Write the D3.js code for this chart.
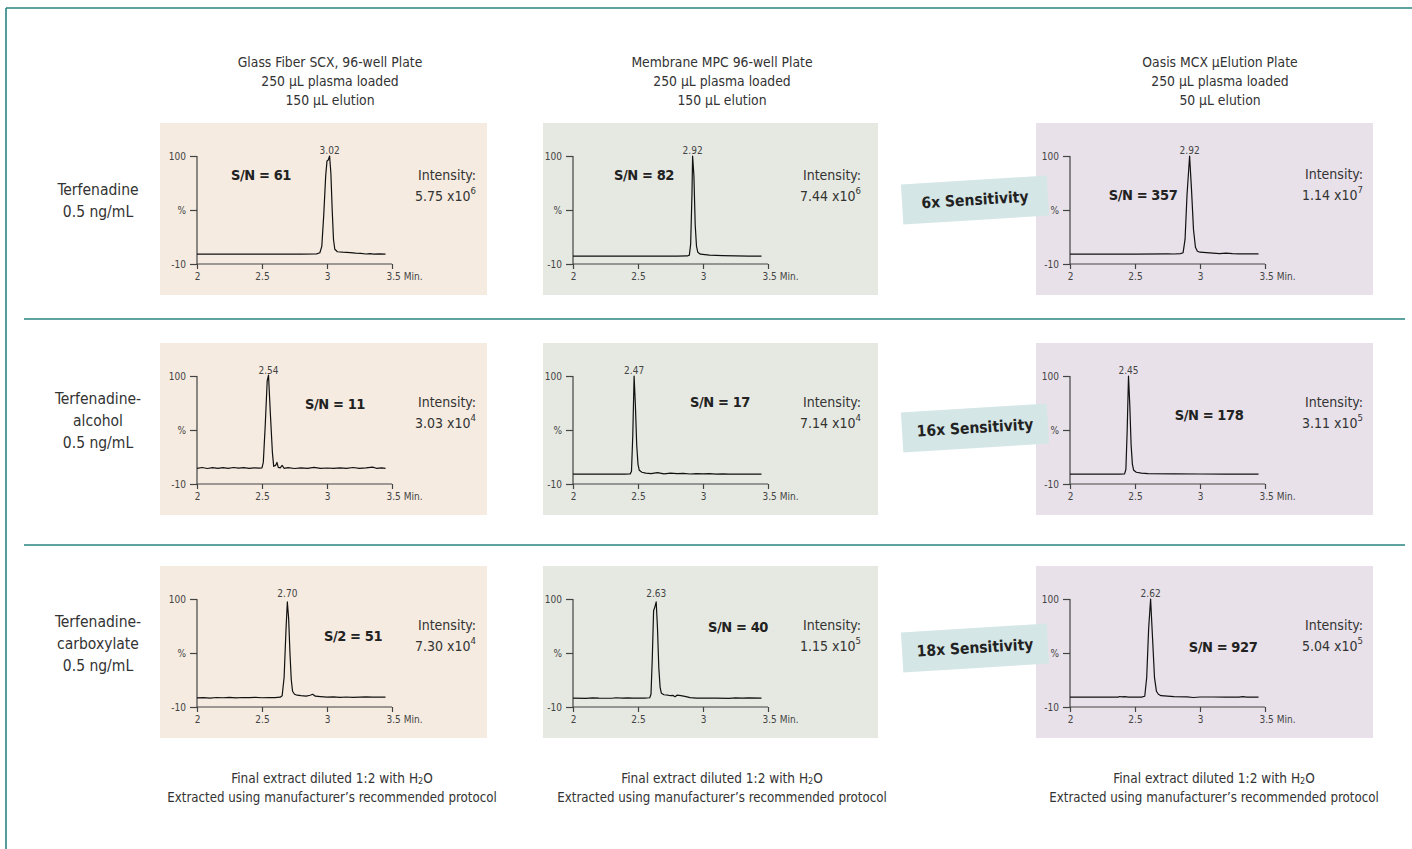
<!DOCTYPE html>
<html>
<head>
<meta charset="utf-8">
<script src="https://cdn.jsdelivr.net/npm/d3@7"></script>
<style>
  html, body { margin: 0; padding: 0; background: #fff; }
  svg { display: block; }
  text { font-family: "Liberation Sans Narrow", "DejaVu Sans Condensed", "Liberation Sans", sans-serif; fill: #333; }
</style>
</head>
<body>
<svg id="chart" width="1412" height="849"></svg>
<script>
// ---------------- DATA ----------------
const columnHeaders = [
  ["Glass Fiber SCX, 96-well Plate", "250 µL plasma loaded", "150 µL elution"],
  ["Membrane MPC 96-well Plate", "250 µL plasma loaded", "150 µL elution"],
  ["Oasis MCX µElution Plate", "250 µL plasma loaded", "50 µL elution"]
];
const compounds = [
  ["Terfenadine", "0.5 ng/mL"],
  ["Terfenadine-", "alcohol", "0.5 ng/mL"],
  ["Terfenadine-", "carboxylate", "0.5 ng/mL"]
];
const snLabels = [
  ["S/N = 61", "S/N = 82", "S/N = 357"],
  ["S/N = 11", "S/N = 17", "S/N = 178"],
  ["S/2 = 51", "S/N = 40", "S/N = 927"]
];
const intensityMantissa = [
  ["5.75", "7.44", "1.14"],
  ["3.03", "7.14", "3.11"],
  ["7.30", "1.15", "5.04"]
];
const intensityExponent = [
  ["6", "6", "7"],
  ["4", "4", "5"],
  ["4", "5", "5"]
];
const peakLabels = [
  ["3.02", "2.92", "2.92"],
  ["2.54", "2.47", "2.45"],
  ["2.70", "2.63", "2.62"]
];
const sensitivityLabels = ["6x Sensitivity", "16x Sensitivity", "18x Sensitivity"];
const xTicks = [2, 2.5, 3, 3.5];
const xTickLabels = ["2", "2.5", "3", "3.5 Min."];
const yTicks = [-10, 45, 100];
const yTickLabels = ["-10", "%", "100"];
const footerLines = ["Final extract diluted 1:2 with H", "Extracted using manufacturer’s recommended protocol"];

// chromatogram traces [time (min), relative intensity (%)]
const terfGlass = [[2.00,0],[2.30,0],[2.60,0],[2.80,0],[2.92,0.3],[2.945,1.5],[2.96,8],[2.975,40],[2.99,80],[3.00,95],[3.01,96],[3.02,100],[3.03,82],[3.04,45],[3.05,15],[3.06,5],[3.08,2.5],[3.12,2],[3.18,1.5],[3.22,1],[3.26,0.8],[3.30,0.2],[3.33,0.5],[3.36,0],[3.40,0.3],[3.45,0]];
const terfMembrane = [[2.00,-2],[2.50,-2],[2.80,-2],[2.88,-1.8],[2.895,-1],[2.905,10],[2.915,60],[2.92,100],[2.93,80],[2.94,30],[2.95,8],[2.96,2],[2.98,0],[3.05,-1],[3.15,-1.5],[3.25,-1.8],[3.35,-2],[3.45,-2]];
const terfOasis = [[2.00,0],[2.50,0],[2.75,0.3],[2.80,0.2],[2.85,0.6],[2.87,1.5],[2.885,15],[2.90,60],[2.92,100],[2.935,65],[2.95,25],[2.965,7],[2.98,3],[3.00,2],[3.05,1.5],[3.10,1],[3.15,0.6],[3.20,1],[3.25,0.5],[3.30,0.3],[3.45,0.3]];
const alcGlass = [[2.00,6],[2.04,6.8],[2.08,5.8],[2.12,6.6],[2.16,5.9],[2.20,6.7],[2.24,6],[2.28,6.8],[2.32,6.1],[2.36,6.6],[2.40,5.9],[2.44,6.5],[2.48,6.2],[2.50,6.5],[2.51,12],[2.525,50],[2.54,95],[2.55,101],[2.565,60],[2.58,22],[2.59,8],[2.605,9],[2.615,12],[2.625,7],[2.64,6.5],[2.655,9],[2.67,6],[2.70,6.6],[2.75,5.8],[2.80,6.4],[2.85,6],[2.90,6.9],[2.95,6],[3.00,6.3],[3.05,5.9],[3.10,6.5],[3.15,6],[3.20,6.8],[3.25,6],[3.30,6.5],[3.35,7.2],[3.38,6],[3.42,6.5],[3.45,6]];
const alcMembrane = [[2.00,0],[2.10,0],[2.20,0.2],[2.30,0],[2.40,0],[2.44,0.3],[2.45,3],[2.46,40],[2.47,100],[2.48,70],[2.49,30],[2.50,10],[2.51,4],[2.53,2],[2.56,1],[2.60,0.5],[2.65,1.5],[2.70,0.4],[2.75,1],[2.80,0.5],[2.85,0.8],[2.90,0.2],[2.95,0.6],[3.00,0.3],[3.05,0.5],[3.10,0],[3.15,0.3],[3.20,0],[3.30,0.2],[3.45,0]];
const alcOasis = [[2.00,0],[2.20,0],[2.38,0],[2.42,0.3],[2.43,5],[2.44,45],[2.45,100],[2.46,70],[2.47,30],[2.48,10],[2.49,4],[2.51,2],[2.55,1],[2.60,0.5],[2.80,0.3],[3.00,0.2],[3.20,0],[3.45,0]];
const carbGlass = [[2.00,-0.8],[2.05,-0.5],[2.10,-0.9],[2.15,-0.3],[2.20,-0.6],[2.25,-0.2],[2.30,-0.7],[2.35,-0.3],[2.40,-0.5],[2.45,-0.2],[2.50,-0.6],[2.55,-0.3],[2.60,-0.4],[2.64,0],[2.655,1.5],[2.67,20],[2.685,70],[2.695,97],[2.705,80],[2.715,45],[2.725,18],[2.735,6],[2.75,3],[2.77,2],[2.80,1.5],[2.84,1],[2.87,2],[2.89,3],[2.91,1],[2.95,0.5],[3.00,0],[3.05,0.3],[3.10,-0.2],[3.15,0.2],[3.20,-0.2],[3.25,0],[3.30,0.3],[3.35,0],[3.40,0.2],[3.45,0.1]];
const carbMembrane = [[2.00,-1],[2.10,-1.2],[2.15,-0.8],[2.20,-1],[2.30,-1.1],[2.33,-0.6],[2.38,-1],[2.42,-0.7],[2.46,-1],[2.50,-1],[2.55,-0.9],[2.59,-0.6],[2.60,3],[2.61,40],[2.62,88],[2.63,92],[2.64,97],[2.65,70],[2.66,30],[2.67,10],[2.68,4],[2.70,2.5],[2.73,2],[2.75,1.5],[2.77,1.8],[2.785,0.5],[2.80,2],[2.83,1.5],[2.87,0.5],[2.90,-0.5],[2.95,-1],[3.00,-1],[3.10,-1],[3.20,-1.2],[3.25,-0.7],[3.30,-1],[3.35,-0.8],[3.45,-1]];
const carbOasis = [[2.00,0],[2.20,0],[2.37,0],[2.38,0.7],[2.40,0.3],[2.42,0.6],[2.45,0],[2.55,0],[2.575,1],[2.59,20],[2.605,70],[2.62,100],[2.635,60],[2.65,20],[2.665,6],[2.68,3],[2.70,1.5],[2.75,1],[2.80,0.5],[2.90,0.3],[2.95,-0.3],[3.00,0.2],[3.10,0.2],[3.20,0],[3.30,0],[3.33,0.5],[3.36,0],[3.45,0]];
const traces = [
  [terfGlass, terfMembrane, terfOasis],
  [alcGlass, alcMembrane, alcOasis],
  [carbGlass, carbMembrane, carbOasis]
];

// ---------------- LAYOUT ----------------
const FONT = "\"Liberation Sans Narrow\", \"DejaVu Sans Condensed\", \"Liberation Sans\", sans-serif";
const teal = "#2a8580";
const panelColors = ["#f5ebe0", "#e6e9e2", "#e8e1e9"];
const badgeColor = "#d5e6e6";
const colPanelX = [160, 543, 1036];
const colPanelW = [327, 335, 337];
const colAxisX = [197, 573, 1070];
const colHeaderX = [330, 722, 1220];
const colFooterX = [332, 722, 1214];
const colSnX = [[261, 644, 1143], [335, 720, 1209], [353, 738, 1223]];
const colSnY = [[175, 175, 195], [404, 402, 415], [636, 627, 647]];
const intensityRight = [476, 861, 1363];
const intensityY = [[175, 175, 174], [402, 402, 402], [625, 625, 625]];
const rowTop = [123, 343, 566];
const rowLabelY = [190, 399, 622];
const badgeCY = [200, 428, 648];
const panelH = 172;
const axisW = 195;
const plotTop = 33, plotBottom = 141;

const svg = d3.select("#chart");

// frame
svg.append("line").attr("x1", 6).attr("x2", 1412).attr("y1", 8).attr("y2", 8)
  .attr("stroke", teal).attr("stroke-width", 1.6);
svg.append("line").attr("x1", 6).attr("x2", 6).attr("y1", 8).attr("y2", 849)
  .attr("stroke", teal).attr("stroke-width", 1.6);
[319, 545].forEach(y => {
  svg.append("line").attr("x1", 24).attr("x2", 1405).attr("y1", y).attr("y2", y)
    .attr("stroke", teal).attr("stroke-width", 1.4);
});

// column headers
columnHeaders.forEach((lines, c) => {
  lines.forEach((t, i) => {
    svg.append("text").attr("x", colHeaderX[c]).attr("y", 62 + i * 19)
      .attr("text-anchor", "middle").attr("dominant-baseline", "central")
      .attr("font-size", 13.8).text(t);
  });
});

// footers
colFooterX.forEach(cx => {
  const t1 = svg.append("text").attr("x", cx).attr("y", 778)
    .attr("text-anchor", "middle").attr("dominant-baseline", "central").attr("font-size", 13.5);
  t1.append("tspan").text(footerLines[0]);
  t1.append("tspan").attr("font-size", 9).attr("dy", 3).text("2");
  t1.append("tspan").attr("dy", -3).text("O");
  svg.append("text").attr("x", cx).attr("y", 797)
    .attr("text-anchor", "middle").attr("dominant-baseline", "central")
    .attr("font-size", 13.2).text(footerLines[1]);
});

const x = d3.scaleLinear().domain([2, 3.5]).range([0, axisW]);
const y = d3.scaleLinear().domain([-10, 100]).range([plotBottom, plotTop]);
const line = d3.line().x(d => x(d[0])).y(d => y(d[1]));

compounds.forEach((lines, r) => {
  // row label
  lines.forEach((t, i) => {
    svg.append("text").attr("x", 98).attr("y", rowLabelY[r] + i * 22)
      .attr("text-anchor", "middle").attr("dominant-baseline", "central")
      .attr("font-size", 15.5).text(t);
  });

  for (let c = 0; c < 3; c++) {
    svg.append("rect").attr("x", colPanelX[c]).attr("y", rowTop[r])
      .attr("width", colPanelW[c]).attr("height", panelH).attr("fill", panelColors[c]);
  }

  // badge (drawn over panel 3 edge)
  const bg = svg.append("g").attr("transform", `translate(975,${badgeCY[r]}) rotate(-3.5)`);
  bg.append("rect").attr("x", -73).attr("y", -20).attr("width", 146).attr("height", 40)
    .attr("fill", badgeColor);
  bg.append("text").attr("x", 0).attr("y", 0).attr("text-anchor", "middle")
    .attr("dominant-baseline", "central").attr("font-size", 15.5).attr("font-weight", "bold")
    .style("fill", "#222").text(sensitivityLabels[r]);

  for (let c = 0; c < 3; c++) {
    const g = svg.append("g").attr("transform", `translate(${colAxisX[c]},${rowTop[r]})`);
    const xAxis = d3.axisBottom(x).tickValues(xTicks).tickSize(5)
      .tickFormat((d, i) => xTickLabels[i]);
    const gx = g.append("g").attr("transform", `translate(0,${plotBottom})`).call(xAxis);
    gx.select(".domain").attr("d", `M0,0H${axisW}`).attr("stroke", "#444");
    gx.selectAll(".tick line").attr("stroke", "#444");
    gx.selectAll(".tick text").attr("font-size", 10).style("fill", "#444")
      .attr("y", 12).attr("dy", "0.35em").attr("font-family", FONT);
    gx.selectAll(".tick").filter((d, i) => i === xTicks.length - 1).select("text")
      .attr("text-anchor", "start").attr("dx", -6);
    const yAxis = d3.axisLeft(y).tickValues(yTicks).tickSize(7)
      .tickFormat((d, i) => yTickLabels[i]);
    const gy = g.append("g").call(yAxis);
    gy.select(".domain").attr("d", `M0,${plotTop}V${plotBottom}`).attr("stroke", "#444");
    gy.selectAll(".tick line").attr("stroke", "#444");
    gy.selectAll(".tick text").attr("font-size", 10).style("fill", "#444")
      .attr("x", -11).attr("font-family", FONT);
    g.selectAll(".domain, .tick line").attr("stroke-width", 1.2);

    // trace
    const data = traces[r][c];
    g.append("path").datum(data).attr("d", line).attr("fill", "none")
      .attr("stroke", "#111").attr("stroke-width", 1.2).attr("stroke-linejoin", "round");

    // peak label
    const peak = data.reduce((a, b) => (b[1] > a[1] ? b : a));
    g.append("text").attr("x", x(peak[0])).attr("y", y(100) - 6)
      .attr("text-anchor", "middle").attr("dominant-baseline", "central")
      .attr("font-size", 10).style("fill", "#444").text(peakLabels[r][c]);

    // S/N label
    svg.append("text").attr("x", colSnX[r][c]).attr("y", colSnY[r][c])
      .attr("text-anchor", "middle").attr("dominant-baseline", "central")
      .attr("font-size", 14.5).attr("font-weight", "bold").attr("letter-spacing", -0.4)
      .style("fill", "#222").text(snLabels[r][c]);

    // intensity
    svg.append("text").attr("x", intensityRight[c]).attr("y", intensityY[r][c])
      .attr("text-anchor", "end").attr("dominant-baseline", "central")
      .attr("font-size", 14).text("Intensity:");
    const it = svg.append("text").attr("x", intensityRight[c]).attr("y", intensityY[r][c] + 21)
      .attr("text-anchor", "end").attr("dominant-baseline", "central").attr("font-size", 14);
    it.append("tspan").text(intensityMantissa[r][c] + " x10");
    it.append("tspan").attr("font-size", 9.5).attr("dy", -6).text(intensityExponent[r][c]);
  }
});
</script>
</body>
</html>
